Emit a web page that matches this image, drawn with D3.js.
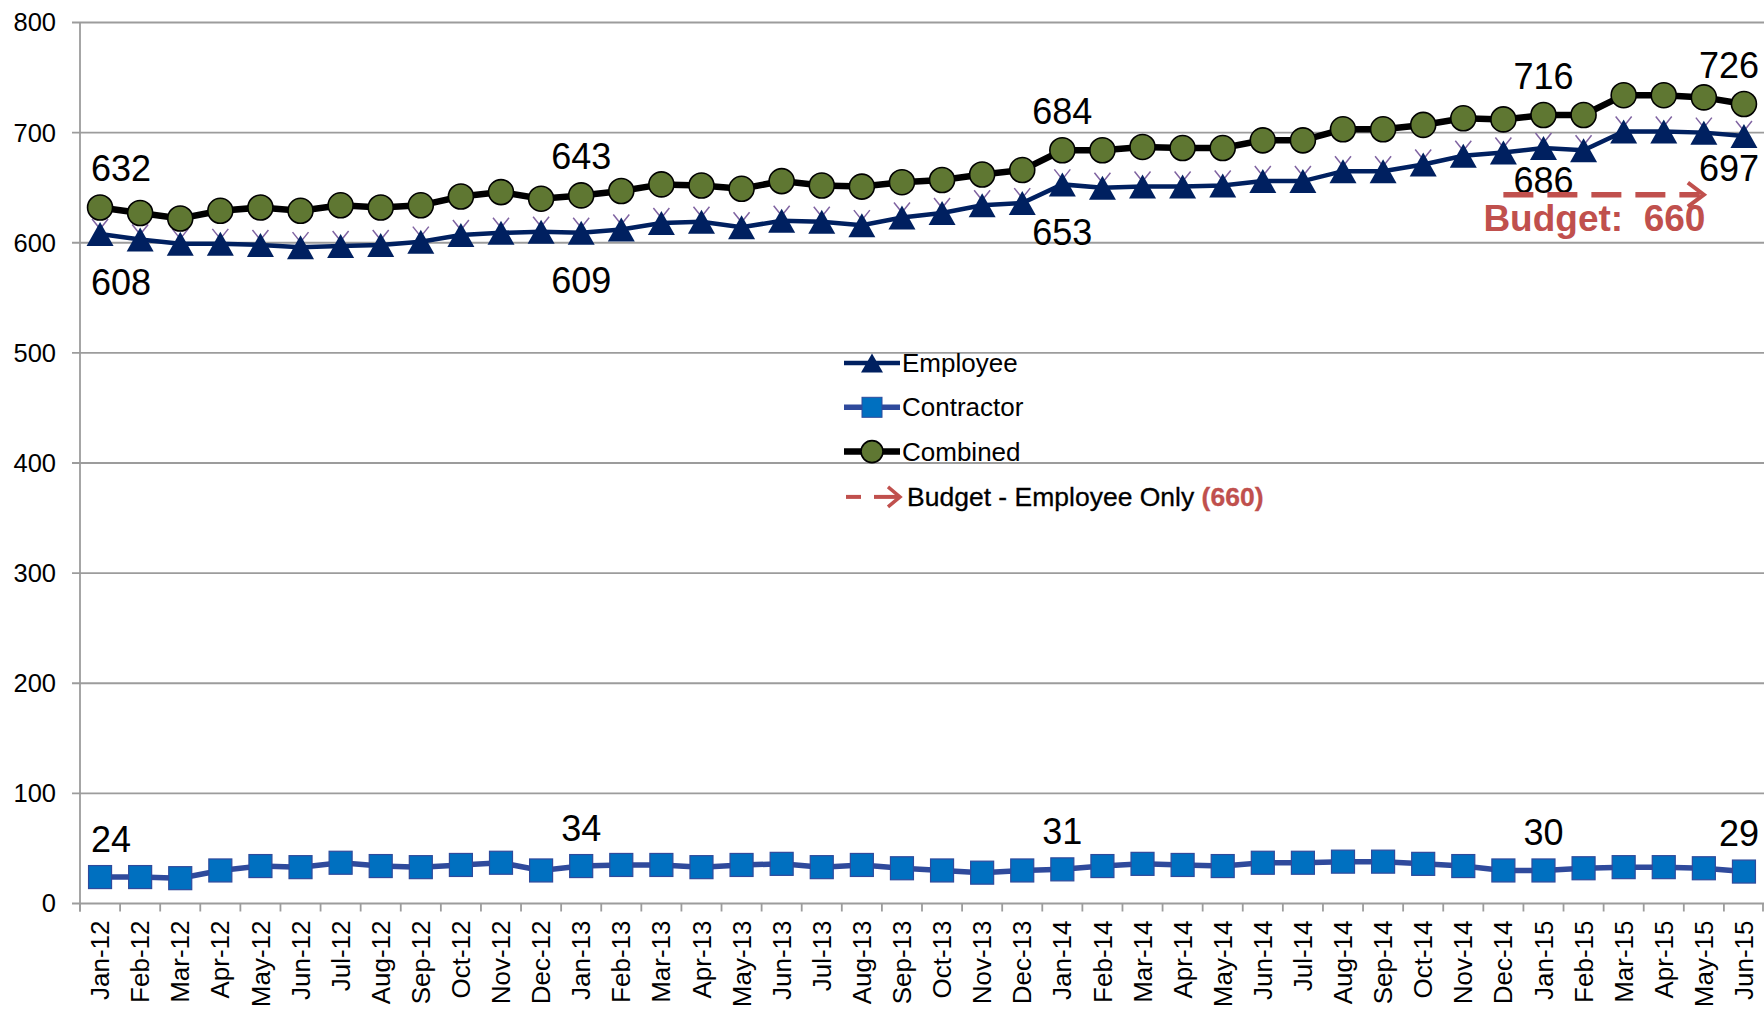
<!DOCTYPE html>
<html>
<head>
<meta charset="utf-8">
<script src="https://cdn.jsdelivr.net/npm/d3@7"></script>
<style>
body { margin: 0; background: #fff; }
svg { display: block; font-family: "Liberation Sans", Arial, sans-serif; }
</style>
</head>
<body>
<svg id="vis" width="1764" height="1010"></svg>
<script>
const svg = d3.select("#vis");

// month categories, Jan-12 .. Jun-15
const months = ["Jan-12","Feb-12","Mar-12","Apr-12","May-12","Jun-12","Jul-12","Aug-12","Sep-12","Oct-12","Nov-12","Dec-12",
  "Jan-13","Feb-13","Mar-13","Apr-13","May-13","Jun-13","Jul-13","Aug-13","Sep-13","Oct-13","Nov-13","Dec-13",
  "Jan-14","Feb-14","Mar-14","Apr-14","May-14","Jun-14","Jul-14","Aug-14","Sep-14","Oct-14","Nov-14","Dec-14",
  "Jan-15","Feb-15","Mar-15","Apr-15","May-15","Jun-15"];

// values
const employee = [608,603,599,599,598,596,597,598,601,607,609,610,
  609,612,618,619,614,620,619,616,623,627,634,636,
  653,650,651,651,652,656,656,665,665,671,679,682,
  686,684,701,701,700,697];
const contractor = [24,24,23,30,34,33,37,34,33,35,37,30,
  34,35,35,33,35,36,33,35,32,30,28,30,
  31,34,36,35,34,37,37,38,38,36,34,30,
  30,32,33,33,32,29];
const combined = [632,627,622,629,632,629,634,632,634,642,646,640,
  643,647,653,652,649,656,652,651,655,657,662,666,
  684,684,687,686,686,693,693,703,703,707,713,712,
  716,716,734,734,732,726];

const labelIdx = [0, 12, 24, 36, 41];  // points with value labels
const yTicks = [0, 100, 200, 300, 400, 500, 600, 700, 800];
const budget = 660;
const legendNames = ["Employee", "Contractor", "Combined"];

const W = 1764, H = 1010;
const LEFT = 80, TOP = 22.5, BOTTOM = 903.5;
const RED = "#c0504d";
const GRID = "#9c9c9c";

const x = d3.scaleBand().domain(months).range([LEFT, W]);
const cx = m => x(m) + x.bandwidth() / 2;
const y = d3.scaleLinear().domain([0, 800]).range([BOTTOM, TOP]);

// gridlines
svg.append("g").selectAll("line").data(yTicks).join("line")
  .attr("x1", LEFT - 8).attr("x2", W)
  .attr("y1", d => y(d)).attr("y2", d => y(d))
  .attr("stroke", GRID).attr("stroke-width", 1.8);

// y axis line + labels
svg.append("line").attr("x1", LEFT).attr("x2", LEFT).attr("y1", TOP).attr("y2", BOTTOM + 8)
  .attr("stroke", GRID).attr("stroke-width", 1.8);
svg.append("g").selectAll("text").data(yTicks).join("text")
  .attr("x", LEFT - 24).attr("y", d => y(d)).attr("dy", "0.35em")
  .attr("text-anchor", "end").attr("font-size", 25.5).text(d => d);

// x ticks at category boundaries
const bounds = months.map(m => x(m)).concat([W - 1]);
svg.append("g").selectAll("line").data(bounds).join("line")
  .attr("x1", d => d).attr("x2", d => d)
  .attr("y1", BOTTOM).attr("y2", BOTTOM + 8)
  .attr("stroke", GRID).attr("stroke-width", 1.8);
svg.append("g").selectAll("text").data(months).join("text")
  .attr("transform", d => `translate(${cx(d)},${BOTTOM + 17}) rotate(-90)`)
  .attr("dy", "0.35em").attr("text-anchor", "end")
  .attr("font-size", 26).text(d => d);

// markers
function triPath(w, h) { return `M0,${-h / 2}L${w / 2},${h / 2}L${-w / 2},${h / 2}Z`; }

const lineGen = arr => d3.line().x((d, i) => cx(months[i])).y(d => y(d))(arr);

// contractor
svg.append("path").attr("d", lineGen(contractor))
  .attr("fill", "none").attr("stroke", "#2f4a9c").attr("stroke-width", 5.5);
svg.append("g").selectAll("rect").data(contractor).join("rect")
  .attr("x", (d, i) => cx(months[i]) - 11.5).attr("y", d => y(d) - 11.5)
  .attr("width", 23).attr("height", 23)
  .attr("fill", "#0070c0").attr("stroke", "#2f4a9c").attr("stroke-width", 1.2);

// employee
svg.append("path").attr("d", lineGen(employee))
  .attr("fill", "none").attr("stroke", "#002060").attr("stroke-width", 4.5);
svg.append("g").selectAll("path").data(employee).join("path")
  .attr("transform", (d, i) => `translate(${cx(months[i])},${y(d)})`)
  .attr("d", "M-8,-15L0,-5M8,-15L0,-5")
  .attr("stroke", "#8064a2").attr("stroke-width", 1.5).attr("fill", "none");
svg.append("g").selectAll("path").data(employee).join("path")
  .attr("transform", (d, i) => `translate(${cx(months[i])},${y(d)})`)
  .attr("d", triPath(27, 24)).attr("fill", "#002060");

// combined
svg.append("path").attr("d", lineGen(combined))
  .attr("fill", "none").attr("stroke", "#000").attr("stroke-width", 6.5);
svg.append("g").selectAll("circle").data(combined).join("circle")
  .attr("cx", (d, i) => cx(months[i])).attr("cy", d => y(d)).attr("r", 12.5)
  .attr("fill", "#5f7732").attr("stroke", "#000").attr("stroke-width", 1.6);

// value labels, centered but kept inside the plot
function addLabels(arr, dyFn) {
  const g = svg.append("g");
  labelIdx.forEach(i => {
    const t = g.append("text").attr("font-size", 36).attr("text-anchor", "middle")
      .attr("y", y(arr[i]) + dyFn(i)).attr("dy", "0.35em").text(arr[i]);
    t.attr("x", cx(months[i]));
    const w = t.node().getComputedTextLength();
    const c = Math.max(LEFT + 11 + w / 2, Math.min(W - 5 - w / 2, cx(months[i])));
    t.attr("x", c);
  });
}
addLabels(combined, () => -39);
// the 2015 employee labels sit tighter so they stay above the budget arrow
addLabels(employee, i => i >= 36 ? 32 : 48);
addLabels(contractor, () => -38);

// budget arrow annotation
const arrowY = y(budget) + 18;
const ax1 = cx("Dec-14"), ax2 = cx("May-15");
svg.append("line").attr("x1", ax1).attr("x2", ax2 - 4).attr("y1", arrowY).attr("y2", arrowY)
  .attr("stroke", RED).attr("stroke-width", 5.5).attr("stroke-dasharray", "30,14");
svg.append("path").attr("d", `M${ax2 - 16},${arrowY - 12}L${ax2},${arrowY}L${ax2 - 16},${arrowY + 12}`)
  .attr("stroke", RED).attr("stroke-width", 4).attr("fill", "none");
svg.append("text").attr("x", ax1 - 20).attr("y", arrowY + 36)
  .attr("fill", RED).attr("font-weight", "bold").attr("font-size", 37)
  .style("white-space", "pre").text("Budget:  " + budget);

// legend
const LX = 844, LW = 56, LY = 363, LS = 44.3;
const lg = svg.append("g");
legendNames.forEach((name, k) => {
  const yy = LY + k * LS, mx = LX + LW / 2;
  const col = ["#002060", "#2f4a9c", "#000"][k];
  lg.append("line").attr("x1", LX).attr("x2", LX + LW).attr("y1", yy).attr("y2", yy)
    .attr("stroke", col).attr("stroke-width", [4.5, 5.5, 6.5][k]);
  if (k === 0) lg.append("path").attr("transform", `translate(${mx},${yy})`).attr("d", triPath(22, 19)).attr("fill", "#002060");
  if (k === 1) lg.append("rect").attr("x", mx - 10).attr("y", yy - 10).attr("width", 20).attr("height", 20)
    .attr("fill", "#0070c0").attr("stroke", "#2f4a9c");
  if (k === 2) lg.append("circle").attr("cx", mx).attr("cy", yy).attr("r", 11)
    .attr("fill", "#5f7732").attr("stroke", "#000").attr("stroke-width", 1.6);
  lg.append("text").attr("x", LX + LW + 2).attr("y", yy).attr("dy", "0.35em")
    .attr("font-size", 26).text(name);
});
const by = LY + 3 * LS + 1;
lg.append("line").attr("x1", LX + 2).attr("x2", LX + 17).attr("y1", by).attr("y2", by)
  .attr("stroke", RED).attr("stroke-width", 4);
lg.append("line").attr("x1", LX + 30).attr("x2", LX + 54).attr("y1", by).attr("y2", by)
  .attr("stroke", RED).attr("stroke-width", 4);
lg.append("path").attr("d", `M${LX + 44},${by - 10}L${LX + 56},${by}L${LX + 44},${by + 10}`)
  .attr("stroke", RED).attr("stroke-width", 3.5).attr("fill", "none");
const bt = lg.append("text").attr("x", LX + 63).attr("y", by).attr("dy", "0.35em").attr("font-size", 26.5)
  .attr("stroke", "#000").attr("stroke-width", 0.3);
bt.append("tspan").text("Budget - Employee Only ");
bt.append("tspan").attr("fill", RED).attr("stroke", RED).attr("font-weight", "bold").text(`(${budget})`);
</script>
</body>
</html>
